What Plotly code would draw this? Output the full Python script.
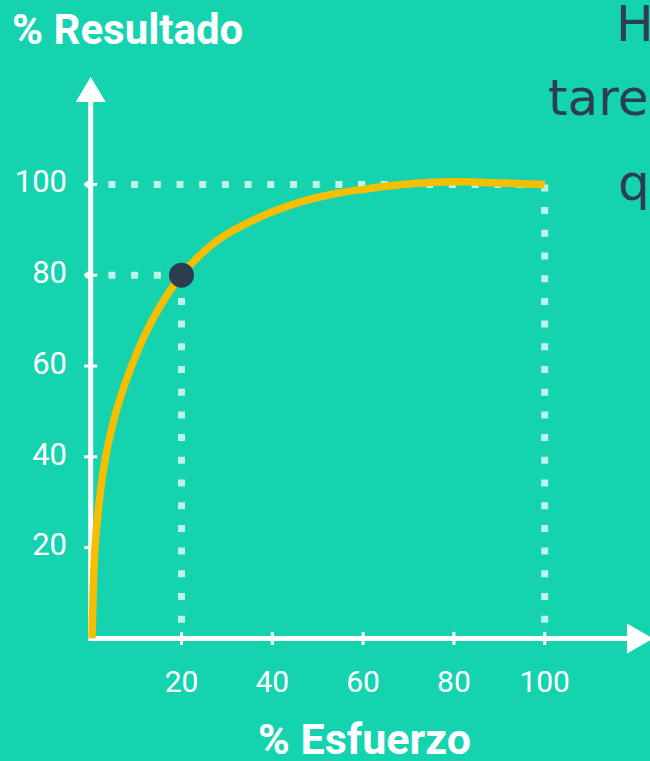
import plotly.graph_objects as go

# Effort vs. result curve (percent values)
effort = [0.3, 0.95, 1.84, 3.3, 5.7, 9.0, 13.4, 20, 27.8, 37, 45.8, 54.6, 60.8, 68, 75.4, 82, 90.2, 100]
result = [0, 20, 29.8, 40, 50.3, 60, 69.8, 80, 87.6, 92.7, 96.0, 98.1, 99.0, 99.9, 100.5, 100.6, 100.3, 100]

# Highlighted point and the full-effort reference
key_effort, key_result = 20, 80
full_effort, full_result = 100, 100

x_ticks = [20, 40, 60, 80, 100]
y_ticks = [20, 40, 60, 80, 100]
x_title = "% Esfuerzo"
y_title = "% Resultado"
side_lines = ["H", "tare", "q"]

BG = "#16D3B0"
WHITE = "#FFFFFF"
DOTS = "rgba(255,255,255,0.72)"
CURVE = "#F6BE00"
DARK = "#2B3D4F"

W, H = 650, 761
PX = 4.54             # pixels per percent unit
OX, OY = 90.7, 638.4  # pixel position of the origin

x_range = [-OX / PX, (W - OX) / PX]
y_range = [(OY - H) / PX, OY / PX]

fig = go.Figure()

# dotted guide lines
def dotted(xs, ys):
    fig.add_trace(go.Scatter(
        x=xs, y=ys, mode="lines",
        line=dict(color=DOTS, width=7, dash="7px,15.7px"),
        hoverinfo="skip", showlegend=False))

dotted([-1.1, full_effort], [full_result, full_result])
dotted([full_effort, full_effort], [full_result, 0])
dotted([-1.1, key_effort], [key_result, key_result])
dotted([key_effort, key_effort], [key_result, 0])

# axes
y_top = (OY - 77) / PX
y_arrow_base = (OY - 102) / PX
x_tip = (W + 3 - OX) / PX
x_arrow_base = (627 - OX) / PX
fig.add_trace(go.Scatter(x=[0, 0], y=[0, y_arrow_base + 1], mode="lines",
                         line=dict(color=WHITE, width=5), hoverinfo="skip", showlegend=False))
fig.add_trace(go.Scatter(x=[-0.5, x_arrow_base + 1], y=[0, 0], mode="lines",
                         line=dict(color=WHITE, width=5), hoverinfo="skip", showlegend=False))
# arrow heads
hw = 15 / PX
fig.add_trace(go.Scatter(x=[-hw, hw, 0, -hw], y=[y_arrow_base, y_arrow_base, y_top, y_arrow_base],
                         mode="lines", fill="toself", fillcolor=WHITE, line=dict(color=WHITE, width=0),
                         hoverinfo="skip", showlegend=False))
fig.add_trace(go.Scatter(x=[x_arrow_base, x_arrow_base, x_tip, x_arrow_base], y=[-hw, hw, 0, -hw],
                         mode="lines", fill="toself", fillcolor=WHITE, line=dict(color=WHITE, width=0),
                         hoverinfo="skip", showlegend=False))

# tick marks crossing the axes
tl = 6.5 / PX
tx, ty = [], []
for v in x_ticks:
    tx += [v, v, None]
    ty += [-tl, tl, None]
for v in y_ticks:
    tx += [-tl, tl, None]
    ty += [v, v, None]
fig.add_trace(go.Scatter(x=tx, y=ty, mode="lines", line=dict(color=WHITE, width=3),
                         hoverinfo="skip", showlegend=False))

# tick labels
fig.add_trace(go.Scatter(
    x=x_ticks, y=[(OY - 684) / PX] * len(x_ticks), mode="text",
    text=[str(v) for v in x_ticks], textposition="middle center",
    textfont=dict(family="Roboto", size=30, color=WHITE),
    hoverinfo="skip", showlegend=False))
fig.add_trace(go.Scatter(
    x=[(67 - OX) / PX] * len(y_ticks), y=y_ticks, mode="text",
    text=[str(v) for v in y_ticks], textposition="middle left",
    textfont=dict(family="Roboto", size=31, color=WHITE),
    hoverinfo="skip", showlegend=False))

# curve
fig.add_trace(go.Scatter(
    x=effort, y=result, mode="lines",
    line=dict(color=CURVE, width=7.5, shape="spline", smoothing=1.0),
    hoverinfo="skip", showlegend=False))

# highlighted point
fig.add_trace(go.Scatter(
    x=[key_effort], y=[key_result], mode="markers",
    marker=dict(color=DARK, size=25, line=dict(width=0)),
    hoverinfo="skip", showlegend=False))

annotations = [
    dict(text=f"<b>{y_title}</b>", xref="paper", yref="paper",
         x=10 / W, y=1 - 30 / H, xanchor="left", yanchor="middle", showarrow=False,
         font=dict(family="Roboto", size=42, color=WHITE)),
    dict(text=f"<b>{x_title}</b>", xref="paper", yref="paper",
         x=364 / W, y=1 - 739 / H, xanchor="center", yanchor="middle", showarrow=False,
         font=dict(family="Roboto", size=43, color=WHITE)),
]
for txt, left, mid in zip(side_lines, [614, 546, 616], [24, 98, 183]):
    annotations.append(dict(text=txt, xref="paper", yref="paper",
                            x=left / W, y=1 - mid / H, xanchor="left", yanchor="middle",
                            showarrow=False,
                            font=dict(family="DejaVu Sans", size=50, color="#2C3E50")))

fig.update_layout(
    width=W, height=H,
    margin=dict(l=0, r=0, t=0, b=0),
    paper_bgcolor=BG, plot_bgcolor=BG,
    xaxis=dict(range=x_range, visible=False, fixedrange=True),
    yaxis=dict(range=y_range, visible=False, fixedrange=True),
    annotations=annotations,
)

fig.write_html("out.html")
